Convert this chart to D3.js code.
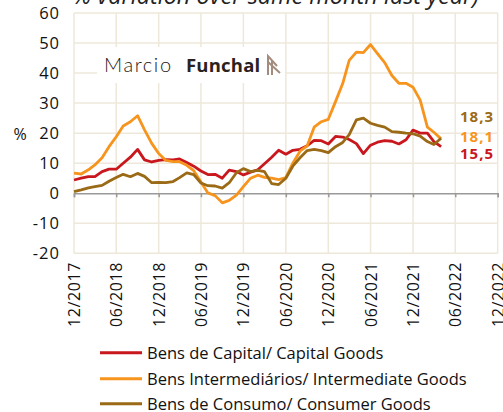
<!DOCTYPE html>
<html>
<head>
<meta charset="utf-8">
<script src="https://cdn.jsdelivr.net/npm/d3@7"></script>
<style>
  body { margin: 0; background: #fff; }
  svg { display: block; font-family: "Open Sans", sans-serif; }
</style>
</head>
<body>
<svg id="chart" width="503" height="412"></svg>
<script>
// monthly series, 12/2017 .. 04/2022 (% over same month last year)
const firstMonth = new Date(2017, 11, 1)
const capital = [4.4, 5, 5.5, 5.5, 7.2, 8, 8, 10, 12, 14.6, 11.1, 10.4, 10.9, 11.2, 11.1, 11.4,
  10.2, 9, 7.4, 6.2, 6.3, 5, 7.7, 7.2, 6.1, 7, 7.8, 9.8, 12, 14.3, 13, 14.3, 14.6, 15.8, 17.6,
  17.5, 16.4, 18.9, 18.7, 17.9, 16.5, 13.2, 16, 17, 17.5, 17.3, 16.4, 17.8, 21, 20, 20, 17.2, 15.5]
const intermed = [6.7, 6.4, 7.8, 9.4, 11.8, 15.5, 18.8, 22.4, 23.8, 25.8, 21.1, 16.6, 13.2, 10.9,
  10.5, 10.5, 9.3, 7.5, 3.7, 0.1, -0.8, -3.2, -2.4, -0.6, 2.2, 5, 6, 5.3, 5, 4.5, 5.2, 10, 14,
  15.8, 22, 23.8, 24.6, 30.5, 36.5, 44.2, 47, 46.8, 49.5, 46.5, 43.5, 39.2, 36.6, 36.6, 35.3,
  31, 22, 20.3, 18.1]
const consumo = [0.5, 1.1, 1.8, 2.2, 2.6, 4, 5.2, 6.3, 5.5, 6.6, 5.6, 3.5, 3.6, 3.5, 3.9, 5.2,
  6.8, 6.2, 3.4, 2.5, 2.4, 1.7, 3.5, 6.8, 8.2, 7.2, 7.6, 7.2, 3.2, 2.9, 5, 9, 11.8, 14.2, 14.6,
  14.2, 13.5, 15.5, 16.9, 19.5, 24.4, 25, 23.3, 22.6, 22, 20.5, 20.3, 20, 19.8, 19, 17.2, 16.2, 18.3]

const seriesNames = ["Bens de Capital/ Capital Goods", "Bens Intermediários/ Intermediate Goods",
  "Bens de Consumo/ Consumer Goods"]
const seriesColors = ["#c9171e", "#f7941d", "#9b6a16"]
const lastLabels = ["15,5", "18,1", "18,3"]
const yTicks = [-20, -10, 0, 10, 20, 30, 40, 50, 60]

const months = d3.timeMonth.range(firstMonth, d3.timeMonth.offset(firstMonth, capital.length))
const xTicks = d3.timeMonth.range(firstMonth, new Date(2023, 0, 1), 6)

const svg = d3.select("#chart")
const plotL = 74, plotR = 497.7, plotT = 13, plotB = 253.3

const x = d3.scaleTime().domain([firstMonth, new Date(2022, 11, 1)]).range([plotL, plotR])
const y = d3.scaleLinear().domain([-20, 60]).range([plotB, plotT])

// title (cut by the top edge)
svg.append("text")
  .attr("x", 479).attr("y", 4)
  .attr("text-anchor", "end")
  .style("font-style", "italic")
  .style("font-size", "23.5px")
  .attr("fill", "#222")
  .text("% variation over same month last year)")

// grid
const grid = svg.append("g").attr("stroke", "#eee8da").attr("stroke-width", 1.5)
grid.selectAll(".h").data(yTicks.filter(d => d != 0)).enter().append("line")
  .attr("x1", plotL).attr("x2", plotR)
  .attr("y1", d => y(d)).attr("y2", d => y(d))
grid.selectAll(".v").data(xTicks).enter().append("line")
  .attr("x1", d => x(d)).attr("x2", d => x(d))
  .attr("y1", plotT).attr("y2", plotB)

// logo box
const logo = svg.append("g")
logo.append("rect").attr("x", 97).attr("y", 47).attr("width", 188).attr("height", 36).attr("fill", "#fff")
logo.append("text").attr("x", 104).attr("y", 72)
  .style("font-family", "Lato, sans-serif").style("font-weight", 300).style("font-size", "20px")
  .style("letter-spacing", "1.6px")
  .attr("fill", "#1e1816").text("Marcio")
logo.append("text").attr("x", 186).attr("y", 72)
  .style("font-weight", 700).style("font-size", "18.5px").style("letter-spacing", "0.2px")
  .attr("fill", "#2a2220").text("Funchal")
logo.append("path")
  .attr("d", "M268,75V56L277,66M268,62L280,73M272,60V75")
  .attr("fill", "none").attr("stroke", "#a38b7e").attr("stroke-width", 2)

// zero axis with ticks
const xAxis = svg.append("g").attr("transform", `translate(0,${y(0)})`)
  .call(d3.axisBottom(x).tickValues(xTicks).tickSize(4).tickFormat(""))
xAxis.select(".domain").attr("stroke", "#999").attr("stroke-width", 1.5)
xAxis.selectAll(".tick line").attr("stroke", "#999").attr("stroke-width", 1.5)

// x labels rotated
svg.append("g").selectAll("text").data(xTicks).enter().append("text")
  .attr("transform", d => `translate(${x(d) + 6},262) rotate(-90)`)
  .attr("text-anchor", "end")
  .style("font-size", "16px").style("letter-spacing", "0.6px")
  .attr("fill", "#111")
  .text(d3.timeFormat("%m/%Y"))

// y labels
svg.append("g").selectAll("text").data(yTicks).enter().append("text")
  .attr("x", 60).attr("y", d => y(d) + 6)
  .attr("text-anchor", "end")
  .style("font-size", "16.5px").style("letter-spacing", "1px")
  .attr("fill", "#111")
  .text(d => d)
svg.append("text").attr("x", 20).attr("y", 140).attr("text-anchor", "middle")
  .style("font-size", "16px").attr("fill", "#111").text("%")

// lines
const line = d3.line().x((d, i) => x(months[i])).y(d => y(d))
const allSeries = [capital, intermed, consumo]
const drawOrder = [0, 1, 2]
svg.append("g").selectAll("path").data(drawOrder).enter().append("path")
  .attr("d", k => line(allSeries[k]))
  .attr("fill", "none")
  .attr("stroke", k => seriesColors[k])
  .attr("stroke-width", 2.8)
  .attr("stroke-linejoin", "round")

// end labels
const labelY = [158.5, 141.5, 121.5]
svg.append("g").selectAll("text").data(lastLabels).enter().append("text")
  .attr("x", 460).attr("y", (d, i) => labelY[i])
  .style("font-weight", 700).style("font-size", "15px").style("letter-spacing", "1px")
  .attr("fill", (d, i) => seriesColors[i])
  .text(d => d)

// legend
const legendY = [352.7, 378.7, 403.7]
const legend = svg.append("g").selectAll("g").data(seriesNames).enter().append("g")
  .attr("transform", (d, i) => `translate(0,${legendY[i]})`)
legend.append("line").attr("x1", 100).attr("x2", 142)
  .attr("stroke", (d, i) => seriesColors[i]).attr("stroke-width", 3)
legend.append("text").attr("x", 147).attr("y", 5.8)
  .style("font-size", "16.5px").attr("fill", "#111")
  .text(d => d)
</script>
</body>
</html>
